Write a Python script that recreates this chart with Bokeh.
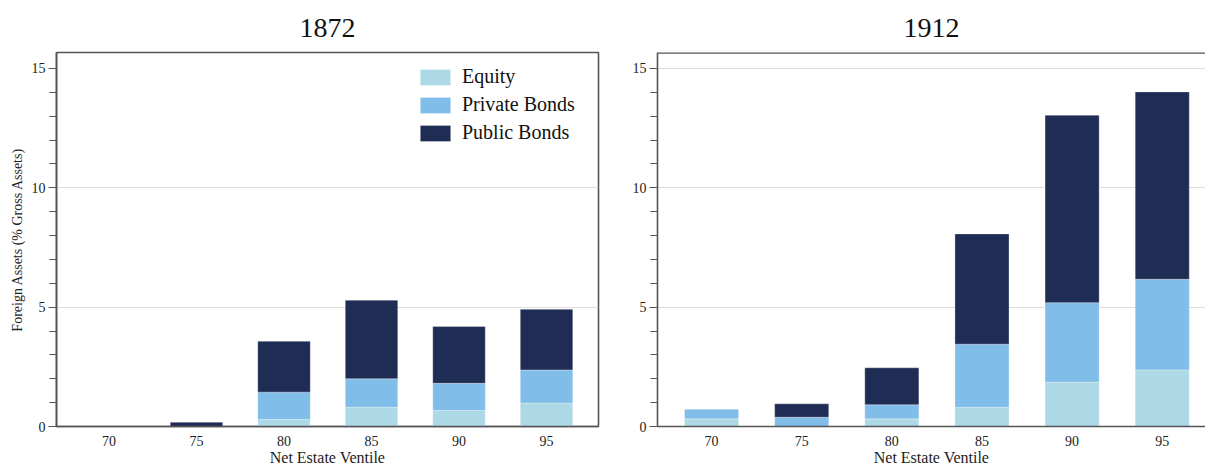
from bokeh.plotting import figure
from bokeh.models import (ColumnDataSource, FixedTicker, Range1d, Span, Legend)
from bokeh.layouts import row
from bokeh.embed import file_html
from bokeh.resources import INLINE

ventiles = [70, 75, 80, 85, 90, 95]
tick_labels = {70: "70", 75: "75", 80: "80", 85: "85", 90: "90", 95: "95"}
series = ["Equity", "Private Bonds", "Public Bonds"]
colors = ["#add8e6", "#80bde8", "#1f2d54"]

equity_1872 = [0.0, 0.0, 0.29, 0.81, 0.67, 0.98]
private_1872 = [0.0, 0.0, 1.15, 1.19, 1.14, 1.39]
public_1872 = [0.0, 0.18, 2.13, 3.29, 2.38, 2.54]

equity_1912 = [0.32, 0.0, 0.32, 0.80, 1.86, 2.37]
private_1912 = [0.41, 0.39, 0.59, 2.65, 3.33, 3.80]
public_1912 = [0.0, 0.56, 1.55, 4.62, 7.85, 7.85]

FONT = "Liberation Serif"
AXIS_COL = "#555555"


def make_panel(title, eq, pr, pu, width, left_border, right_border, show_ylabel,
               x_end, grid_ticks, right_outline):
    src = ColumnDataSource(dict(x=ventiles, Equity=eq, **{"Private Bonds": pr, "Public Bonds": pu}))
    p = figure(width=width, height=469, output_backend="svg", toolbar_location=None,
               x_range=Range1d(67.0, x_end), y_range=Range1d(0, 15.67),
               min_border_left=left_border, min_border_right=right_border,
               min_border_top=51, min_border_bottom=43)
    rs = p.vbar_stack(series, x="x", width=3.0, source=src, color=colors,
                      line_color="#ffffff", line_alpha=0.5, line_width=0.6)
    p.title.text = title
    p.title.align = "center"
    p.title.text_font = FONT
    p.title.text_font_size = "28px"
    p.title.text_font_style = "normal"
    p.title.text_color = "#111111"
    p.title.standoff = 32

    # x axis
    p.xaxis.ticker = FixedTicker(ticks=ventiles)
    p.xaxis.major_label_overrides = tick_labels
    p.xaxis.major_tick_line_color = None
    p.xaxis.minor_tick_line_color = None
    p.xaxis.axis_line_color = AXIS_COL
    p.xaxis.axis_line_width = 1.6
    p.xaxis.major_label_text_font = FONT
    p.xaxis.major_label_text_font_size = "14px"
    p.xaxis.major_label_text_color = "#222222"
    p.xaxis.major_label_standoff = 3
    p.xaxis.axis_label = "Net Estate Ventile"
    p.xaxis.axis_label_text_font = FONT
    p.xaxis.axis_label_text_font_size = "16px"
    p.xaxis.axis_label_text_font_style = "normal"
    p.xaxis.axis_label_text_color = "#222222"
    p.xaxis.axis_label_standoff = 0

    # y axis
    p.yaxis.ticker = FixedTicker(ticks=[0, 5, 10, 15], minor_ticks=list(range(0, 16)))
    p.yaxis.axis_line_color = AXIS_COL
    p.yaxis.axis_line_width = 1.6
    p.yaxis.major_tick_line_color = AXIS_COL
    p.yaxis.minor_tick_line_color = AXIS_COL
    p.yaxis.major_tick_out = 8
    p.yaxis.major_tick_in = 0
    p.yaxis.minor_tick_out = 7
    p.yaxis.minor_tick_in = 0
    p.yaxis.major_label_text_font = FONT
    p.yaxis.major_label_text_font_size = "14px"
    p.yaxis.major_label_text_color = "#222222"
    p.yaxis.major_label_standoff = 3
    if show_ylabel:
        p.yaxis.axis_label = "Foreign Assets (% Gross Assets)"
        p.yaxis.axis_label_text_font = FONT
        p.yaxis.axis_label_text_font_size = "14px"
        p.yaxis.axis_label_text_font_style = "normal"
        p.yaxis.axis_label_text_color = "#222222"
        p.yaxis.axis_label_standoff = 4

    p.xgrid.grid_line_color = None
    p.ygrid.ticker = FixedTicker(ticks=grid_ticks)
    p.ygrid.grid_line_color = "#dddddd"
    p.ygrid.grid_line_width = 1.2

    if right_outline:
        p.outline_line_color = AXIS_COL
        p.outline_line_width = 1.6
        p.outline_line_alpha = 1.0
    else:
        p.outline_line_color = None
        p.add_layout(Span(location=15.67, dimension="width", line_color=AXIS_COL,
                          line_width=2.5))
    return p, rs


p1, rs1 = make_panel("1872", equity_1872, private_1872, public_1872, 605, 56, 7, True,
                     97.97, [5, 10], True)
p2, rs2 = make_panel("1912", equity_1912, private_1912, public_1912, 600, 52, 0, False,
                     97.4, [5, 10, 15], False)

legend = Legend(items=[(s, [r]) for s, r in zip(series, rs1)], location=(360, 282))
legend.border_line_color = None
legend.background_fill_alpha = 0
legend.padding = 0
legend.margin = 0
legend.spacing = 5
legend.glyph_width = 38
legend.glyph_height = 20
legend.label_height = 20
legend.label_standoff = 8
legend.label_text_font = FONT
legend.label_text_font_size = "20px"
legend.label_text_color = "#111111"
p1.legend.visible = False
p1.add_layout(legend, "center")

layout = row(p1, p2)
open("out.html", "w").write(file_html(layout, INLINE))
